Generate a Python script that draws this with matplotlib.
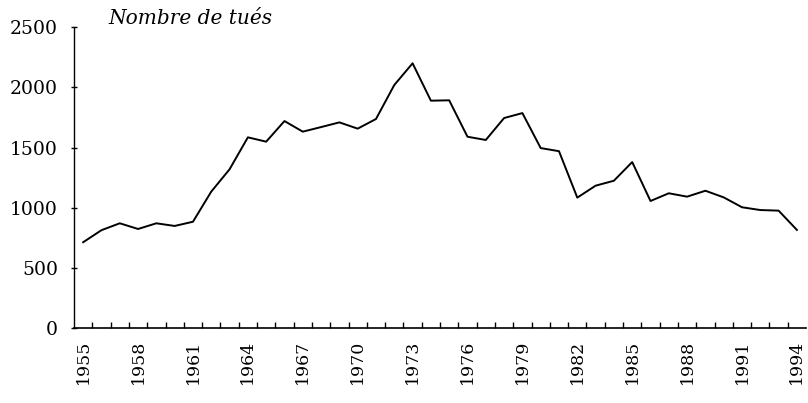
import matplotlib.pyplot as plt
import numpy as np

# nombre de tués par an, 1955-1994
annees = np.arange(1955, 1995)
tues = [715, 815, 872, 825, 872, 850, 885, 1135, 1320, 1585,
        1549, 1720, 1632, 1670, 1709, 1657, 1737, 2019, 2199, 1889,
        1892, 1590, 1563, 1745, 1786, 1496, 1470, 1085, 1184, 1225,
        1380, 1057, 1121, 1093, 1142, 1087, 1005, 982, 977, 817]
annees_label = annees[::3]

plt.rcParams['font.family'] = ['DejaVu Serif']

fig = plt.figure(figsize=(8.08, 4.03), dpi=100)
ax = fig.add_axes([0.0916, 0.185, 0.906, 0.748])

ax.plot(annees, tues, 'k-', linewidth=1.4)

ax.set_xlim(annees[0] - 0.5, annees[-1] + 0.5)
ax.set_ylim(0, 2500)

ax.spines['top'].set_visible(False)
ax.spines['right'].set_visible(False)
ax.spines['left'].set_linewidth(1.0)
ax.spines['bottom'].set_linewidth(1.2)

# graduations entre les années, étiquettes tous les 3 ans
ax.set_xticks(annees[:-1] + 0.5, minor=True)
ax.set_xticks(annees_label)
ax.set_xticklabels([str(a) for a in annees_label], rotation=90, fontsize=12.5)
ax.tick_params(axis='x', which='major', length=0, pad=8)
ax.tick_params(axis='x', which='minor', direction='in', length=4, width=1)

ax.set_yticks(np.arange(0, 2501, 500))
ax.tick_params(axis='y', direction='inout', length=5, width=1, pad=9, labelsize=13.5)

fig.text(108 / 808, 1 - 18 / 403, 'Nombre de tués', fontsize=14.5,
         style='italic', va='center', ha='left')

plt.savefig('out.png', dpi=100)
